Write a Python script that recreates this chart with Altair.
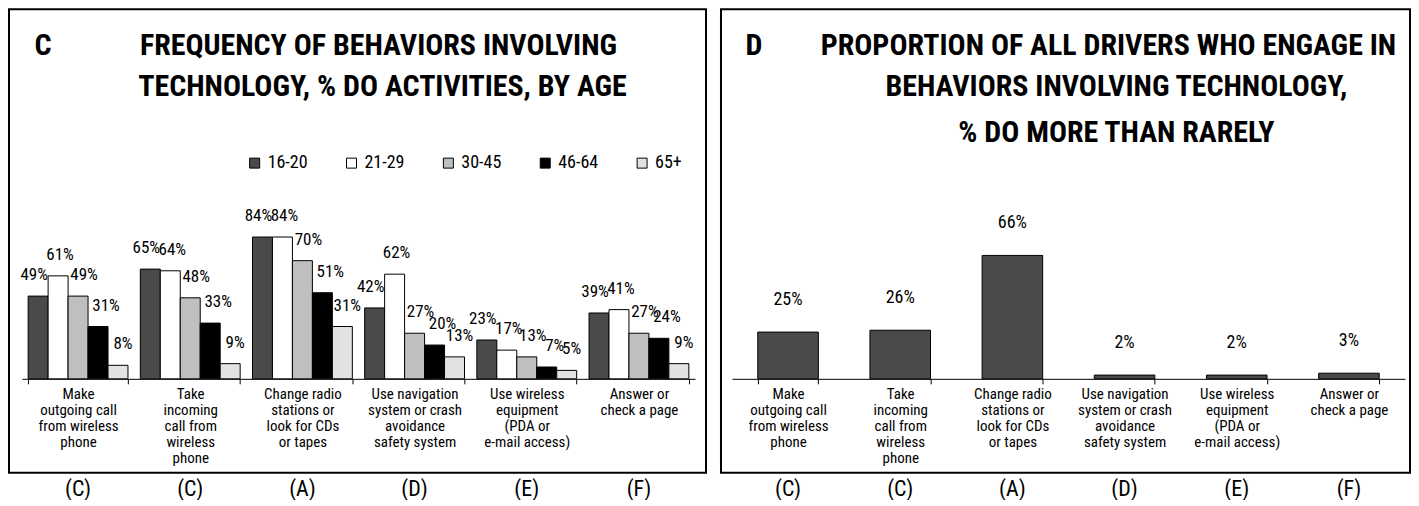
import altair as alt
import pandas as pd

# ---------------- data ----------------
categories = [
    "Make\noutgoing call\nfrom wireless\nphone",
    "Take\nincoming\ncall from\nwireless\nphone",
    "Change radio\nstations or\nlook for CDs\nor tapes",
    "Use navigation\nsystem or crash\navoidance\nsafety system",
    "Use wireless\nequipment\n(PDA or\ne-mail access)",
    "Answer or\ncheck a page",
]
codes = ["(C)", "(C)", "(A)", "(D)", "(E)", "(F)"]
age_groups = ["16-20", "21-29", "30-45", "46-64", "65+"]
v_16_20 = [49, 65, 84, 42, 23, 39]
v_21_29 = [61, 64, 84, 62, 17, 41]
v_30_45 = [49, 48, 70, 27, 13, 27]
v_46_64 = [31, 33, 51, 20, 7, 24]
v_65_plus = [8, 9, 31, 13, 5, 9]
all_drivers = [25, 26, 66, 2, 2, 3]

age_colors = ["#4a4a4a", "#ffffff", "#bfbfbf", "#000000", "#e2e2e2"]
single_color = "#4a4a4a"

title_c = ["FREQUENCY OF BEHAVIORS INVOLVING", "TECHNOLOGY, % DO ACTIVITIES, BY AGE"]
title_d = ["PROPORTION OF ALL DRIVERS WHO ENGAGE IN", "BEHAVIORS INVOLVING TECHNOLOGY,", "% DO MORE THAN RARELY"]

FONT = "Liberation Sans Narrow, Arial Narrow, Roboto Condensed, DejaVu Sans Condensed, Liberation Sans, Arial, sans-serif"

series = [v_16_20, v_21_29, v_30_45, v_46_64, v_65_plus]
rows = []
for age, vals in zip(age_groups, series):
    for cat, v in zip(categories, vals):
        rows.append({"cat": cat, "age": age, "value": v})
df_left = pd.DataFrame(rows)
df_right = pd.DataFrame({"cat": categories, "value": all_drivers})
df_codes = pd.DataFrame({"cat": categories, "code": codes})

W = 674
H = 249
# horizontal nudge of the value labels of each age series (style only)
label_dx = [-4, 2, 6, 8, 5]


def x_enc(pi, po):
    return alt.X(
        "cat:N",
        sort=categories,
        scale=alt.Scale(domain=categories, paddingInner=pi, paddingOuter=po),
        axis=alt.Axis(
            title=None,
            labelAngle=0,
            labelExpr="split(datum.label, '\\n')",
            labelFont=FONT,
            labelFontSize=15,
            labelLineHeight=16,
            labelColor="black",
            labelPadding=3,
            labelBaseline="top",
            domainColor="black",
            domainWidth=1,
            tickColor="black",
            tickSize=5,
            tickBand="extent",
            labelLimit=200,
        ),
    )


def text_layer(txt, x, y, size, bold=True, align="center"):
    return alt.Chart(alt.Data(values=[{"t": txt}])).mark_text(
        font=FONT, fontSize=size, fontWeight="bold" if bold else "normal",
        color="black", align=align, baseline="middle",
    ).encode(x=alt.value(x), y=alt.value(y), text="t:N")


def box_layer(x1, x2, y1, y2):
    return alt.Chart(alt.Data(values=[{"b": 1}])).mark_rect(
        fillOpacity=0, stroke="black", strokeWidth=2
    ).encode(x=alt.value(x1), x2=alt.value(x2), y=alt.value(y1), y2=alt.value(y2))


def codes_layer(pi, po):
    return alt.Chart(df_codes).mark_text(
        font=FONT, fontSize=22, color="black", baseline="middle"
    ).encode(
        x=alt.X("cat:N", sort=categories, scale=alt.Scale(domain=categories, paddingInner=pi, paddingOuter=po)),
        y=alt.value(H + 110),
        text="code:N",
    )


# ---------------- left panel ----------------
lpi, lpo = 0.11, 0.055
y_left = alt.Y("value:Q", scale=alt.Scale(domain=[0, 147.3], nice=False), axis=None)

bars_left = alt.Chart(df_left).mark_bar(stroke="black", strokeWidth=1).encode(
    x=x_enc(lpi, lpo),
    xOffset=alt.XOffset("age:N", sort=age_groups, scale=alt.Scale(domain=age_groups, paddingInner=0, paddingOuter=0)),
    y=y_left,
    fill=alt.Fill(
        "age:N",
        sort=age_groups,
        scale=alt.Scale(domain=age_groups, range=age_colors),
        legend=alt.Legend(
            title=None,
            orient="none",
            legendX=224,
            legendY=24,
            direction="horizontal",
            symbolType="square",
            symbolSize=100,
            symbolStrokeColor="black",
            symbolStrokeWidth=1,
            labelFont=FONT,
            labelFontSize=18,
            labelColor="black",
            labelOffset=4,
            columnPadding=34,
        ),
    ),
)

label_layers = []
for age, dx in zip(age_groups, label_dx):
    label_layers.append(
        alt.Chart(df_left).transform_filter(
            alt.datum.age == age
        ).transform_calculate(
            lab="format(datum.value, 'd') + '%'"
        ).mark_text(font=FONT, fontSize=17, color="black", baseline="middle", dy=-21, dx=dx).encode(
            x=alt.X("cat:N", sort=categories),
            xOffset=alt.XOffset("age:N", sort=age_groups),
            y=y_left,
            text="lab:N",
        )
    )

left = alt.layer(
    box_layer(-13, 685, -121, 343),
    bars_left,
    *label_layers,
    codes_layer(lpi, lpo),
    text_layer("C", 21, -84, 30),
    text_layer(title_c[0], 357, -84, 30),
    text_layer(title_c[1], 361, -43, 30),
).properties(width=W, height=H)

# ---------------- right panel ----------------
rpi, rpo = 0.46, 0.23
y_right = alt.Y("value:Q", scale=alt.Scale(domain=[0, 133], nice=False), axis=None)

bars_right = alt.Chart(df_right).mark_bar(stroke="black", strokeWidth=1, color=single_color).encode(
    x=x_enc(rpi, rpo),
    y=y_right,
)
labels_right = alt.Chart(df_right).transform_calculate(
    lab="format(datum.value, 'd') + '%'"
).mark_text(font=FONT, fontSize=18, color="black", baseline="middle", dy=-32).encode(
    x=alt.X("cat:N", sort=categories),
    y=y_right,
    text="lab:N",
)

right = alt.layer(
    box_layer(-11, 679, -121, 343),
    bars_right,
    labels_right,
    codes_layer(rpi, rpo),
    text_layer("D", 22, -84, 30),
    text_layer(title_d[0], 377, -84, 30),
    text_layer(title_d[1], 385, -43, 30),
    text_layer(title_d[2], 385, 3, 30),
).properties(width=W, height=H)

chart = alt.hconcat(left, right, spacing=13).resolve_scale(
    x="independent", y="independent"
).properties(padding=0).configure(
    font=FONT, view=alt.ViewConfig(stroke=None)
)

chart.save("out.html", embed_options={"renderer": "svg", "actions": False})
